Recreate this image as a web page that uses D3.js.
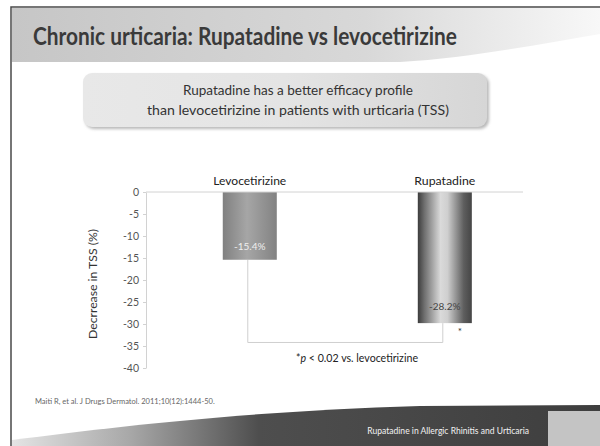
<!DOCTYPE html>
<html>
<head>
<meta charset="utf-8">
<script src="https://cdn.jsdelivr.net/npm/d3@7"></script>
<style>
  body { margin: 0; background: #fff; }
  svg { display: block; font-family: Lato, "Open Sans", sans-serif; }
</style>
</head>
<body>
<div id="chart"></div>
<script>
// values
const categories = ['Levocetirizine', 'Rupatadine'];
const barValues = [-15.4, -29.8];          // drawn bar ends, as seen against the axis
const valueLabels = ['-15.4%', '-28.2%'];  // printed labels
const yTicks = [0, -5, -10, -15, -20, -25, -30, -35, -40];
const bracketLevel = -34.2;
const titleText = 'Chronic urticaria: Rupatadine vs levocetirizine';
const calloutLines = ['Rupatadine has a better efficacy profile', 'than levocetirizine in patients with urticaria (TSS)'];
const yAxisTitle = 'Decrrease in TSS (%)';
const citation = 'Maiti R, et al. J Drugs Dermatol. 2011;10(12):1444-50.';
const footerText = 'Rupatadine in Allergic Rhinitis and Urticaria';

// shrink or grow a text so it spans the given width
function fitText(sel, width) {
  const size = parseFloat(sel.attr('font-size'));
  const len = sel.node().getComputedTextLength();
  sel.attr('font-size', (size * width / len).toFixed(2));
  return sel;
}

class SlideChart {

  constructor(_config) {
    this.config = {
      parentElement: _config.parentElement,
      containerWidth: _config.containerWidth || 600,
      containerHeight: _config.containerHeight || 446,
      plot: {left: 146, right: 523, top: 192, bottom: 368}
    };
    this.initVis();
  }

  initVis() {
    let vis = this;
    const W = vis.config.containerWidth, H = vis.config.containerHeight;

    vis.svg = d3.select(vis.config.parentElement).append('svg')
        .attr('width', W)
        .attr('height', H);

    const defs = vis.svg.append('defs');
    const gradient = (id, stops, attrs) => {
      const g = defs.append('linearGradient').attr('id', id);
      Object.entries(attrs || {}).forEach(([k, v]) => g.attr(k, v));
      g.selectAll('stop').data(stops).join('stop')
          .attr('offset', d => d[0])
          .attr('stop-color', d => d[1]);
    };
    gradient('header-grad', [[0, '#c6c6c6'], [0.6, '#d8d8d8'], [1, '#f8f8f8']]);
    gradient('callout-grad', [[0, '#e8e8e8'], [0.5, '#e4e4e4'], [1, '#d6d6d6']]);
    gradient('footer-grad', [[0, '#e4e4e4'], [0.2, '#a8a8a8'], [0.42, '#4e4e4e'], [1, '#3e3e3e']]);
    gradient('bar-0', [[0, '#808080'], [0.45, '#a6a6a6'], [1, '#828282']]);
    gradient('bar-1', [[0, '#3c3c3c'], [0.12, '#6e6e6e'], [0.42, '#dadada'], [0.55, '#cfcfcf'], [0.85, '#5e5e5e'], [1, '#454545']]);

    defs.append('filter').attr('id', 'soft')
      .append('feGaussianBlur').attr('stdDeviation', 1.5);

    // slide header
    vis.svg.append('path')
        .attr('d', 'M12,8 H600 V34 C540,44 470,58 400,62 H12 Z')
        .attr('fill', 'url(#header-grad)');

    vis.svg.append('text')
        .attr('x', 33)
        .attr('y', 45)
        .attr('font-size', 24)
        .attr('font-weight', 700)
        .attr('fill', '#3a3a3a')
        .attr('textLength', 424)
        .attr('lengthAdjust', 'spacingAndGlyphs')
        .text(titleText);

    // callout box
    vis.svg.append('rect')
        .attr('x', 85).attr('y', 75)
        .attr('width', 404).attr('height', 54)
        .attr('rx', 9)
        .attr('fill', '#b8b8b8')
        .attr('filter', 'url(#soft)');
    vis.svg.append('rect')
        .attr('x', 83).attr('y', 73)
        .attr('width', 404).attr('height', 54)
        .attr('rx', 9)
        .attr('fill', 'url(#callout-grad)');

    const calloutWidths = [230, 302];
    vis.svg.selectAll('.callout-line')
        .data(calloutLines)
      .join('text')
        .attr('class', 'callout-line')
        .attr('x', 298)
        .attr('y', (d, i) => 95 + i * 20)
        .attr('text-anchor', 'middle')
        .attr('font-size', 13)
        .attr('fill', '#333')
        .text(d => d)
        .each(function(d, i) { fitText(d3.select(this), calloutWidths[i]); });

    // footer band
    vis.svg.append('path')
        .attr('d', 'M12,446 V440 C120,426 250,411 420,406 L600,405 V446 Z')
        .attr('fill', 'url(#footer-grad)');
    vis.svg.append('rect')
        .attr('x', 548).attr('y', 411)
        .attr('width', 52).attr('height', 35)
        .attr('fill', '#c4c4c4');
    vis.svg.append('text')
        .attr('x', 529)
        .attr('y', 434)
        .attr('text-anchor', 'end')
        .attr('font-size', 9.5)
        .attr('fill', '#f2f2f2')
        .text(footerText)
        .call(fitText, 162);

    vis.svg.append('text')
        .attr('x', 35)
        .attr('y', 404)
        .attr('font-size', 7)
        .attr('fill', '#666')
        .text(citation)
        .call(fitText, 180);

    // slide frame
    vis.svg.append('path')
        .attr('d', 'M11,446 V7 H600')
        .attr('fill', 'none')
        .attr('stroke', '#4a4a4a')
        .attr('stroke-width', 1.5);

    // scales
    const p = vis.config.plot;
    vis.x = d3.scaleBand()
        .domain(categories)
        .range([p.left, p.right])
        .paddingInner(0.723)
        .paddingOuter(0.328)
        .align(0.6);
    vis.y = d3.scaleLinear()
        .domain([-40, 0])
        .range([p.bottom, p.top]);

    vis.chart = vis.svg.append('g');

    const yAxis = d3.axisLeft(vis.y)
        .tickValues(yTicks)
        .tickSize(3)
        .tickSizeOuter(0)
        .tickPadding(4)
        .tickFormat(d => String(d));

    vis.yAxisG = vis.chart.append('g')
        .attr('transform', `translate(${p.left},0)`)
        .call(yAxis);
    vis.yAxisG.select('.domain').attr('stroke', '#d2d2d2');
    vis.yAxisG.selectAll('.tick line').attr('stroke', '#d2d2d2');
    vis.yAxisG.selectAll('.tick text')
        .attr('font-family', 'Lato, sans-serif')
        .attr('font-size', 10.5)
        .attr('fill', '#555');

    vis.chart.append('text')
        .attr('transform', `translate(97,284) rotate(-90)`)
        .attr('text-anchor', 'middle')
        .attr('font-size', 11.5)
        .attr('fill', '#333')
        .text(yAxisTitle)
        .call(fitText, 110);

    vis.renderVis();
  }

  renderVis() {
    let vis = this;
    const rows = categories.map((c, i) => ({name: c, value: barValues[i], label: valueLabels[i], i: i}));

    // bracket linking the two bars
    const xl = vis.x(categories[0]) + vis.x.bandwidth() / 2 - 2;
    const xr = vis.x(categories[1]) + vis.x.bandwidth() / 2 - 2;
    vis.chart.append('path')
        .attr('d', `M${xl},${vis.y(barValues[0])} V${vis.y(bracketLevel)} H${xr} V${vis.y(barValues[1])}`)
        .attr('fill', 'none')
        .attr('stroke', '#cfcfcf');

    vis.chart.selectAll('.bar')
        .data(rows)
      .join('rect')
        .attr('class', 'bar')
        .attr('x', d => vis.x(d.name))
        .attr('width', vis.x.bandwidth())
        .attr('y', vis.y(0))
        .attr('height', d => vis.y(d.value) - vis.y(0))
        .attr('fill', d => `url(#bar-${d.i})`);

    // zero line
    vis.chart.append('line')
        .attr('x1', vis.x.range()[0]).attr('x2', vis.x.range()[1])
        .attr('y1', vis.y(0)).attr('y2', vis.y(0))
        .attr('stroke', '#d2d2d2');

    const catWidths = [73, 61];
    vis.chart.selectAll('.cat-label')
        .data(rows)
      .join('text')
        .attr('class', 'cat-label')
        .attr('x', d => vis.x(d.name) + vis.x.bandwidth() / 2)
        .attr('y', 185)
        .attr('text-anchor', 'middle')
        .attr('font-size', 11)
        .attr('fill', '#222')
        .text(d => d.name)
        .each(function(d) { fitText(d3.select(this), catWidths[d.i]); });

    vis.chart.selectAll('.value-label')
        .data(rows)
      .join('text')
        .attr('class', 'value-label')
        .attr('x', d => vis.x(d.name) + vis.x.bandwidth() / 2)
        .attr('y', d => vis.y(d.value) + (d.i === 0 ? -10 : -13))
        .attr('text-anchor', 'middle')
        .attr('font-size', 10)
        .attr('fill', d => d.i === 0 ? '#efefef' : '#444')
        .text(d => d.label);

    // significance marks
    vis.chart.append('text')
        .attr('x', vis.x(categories[1]) + vis.x.bandwidth() * 0.78)
        .attr('y', vis.y(barValues[1]) + 12)
        .attr('text-anchor', 'middle')
        .attr('font-size', 10)
        .attr('fill', '#333')
        .text('*');

    const note = vis.chart.append('text')
        .attr('x', 357)
        .attr('y', 362)
        .attr('text-anchor', 'middle')
        .attr('font-size', 11)
        .attr('fill', '#222');
    note.append('tspan').text('*');
    note.append('tspan').attr('font-style', 'italic').text('p');
    note.append('tspan').text(' < 0.02 vs. levocetirizine');
    fitText(note, 122);
  }
}

new SlideChart({parentElement: '#chart'});
</script>
</body>
</html>
